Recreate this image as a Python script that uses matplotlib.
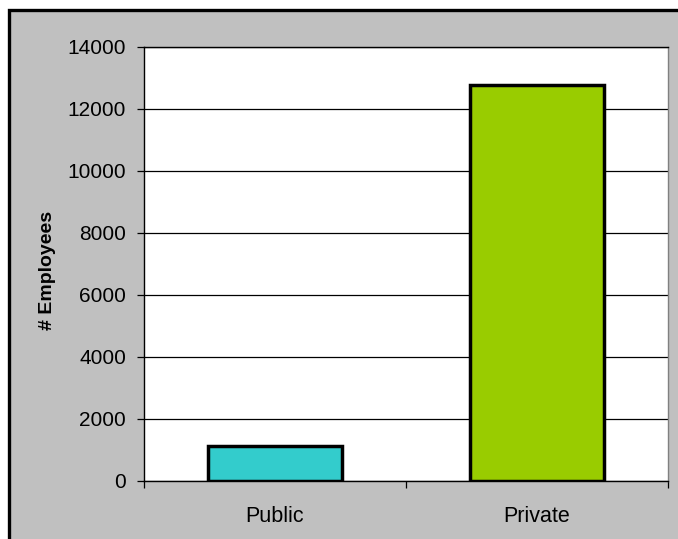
import matplotlib
matplotlib.use("Agg")
import matplotlib.pyplot as plt
from matplotlib.patches import Rectangle
from matplotlib.ticker import FixedLocator, NullFormatter

categories = ["Public", "Private"]
employees = [1130, 12780]
bar_colors = ["#33CCCC", "#99CC00"]
yticks = [0, 2000, 4000, 6000, 8000, 10000, 12000, 14000]

W, H = 678, 539
fig = plt.figure(figsize=(W / 100, H / 100), dpi=100)
fig.patch.set_facecolor("white")

# gray chart area with black border (left/top visible)
fig.patches.append(Rectangle((8.5 / W, -0.1), 1.2, 1.1 - 10.5 / H,
                             transform=fig.transFigure, facecolor="#C0C0C0",
                             edgecolor="black", linewidth=2.4, zorder=-10))

ax = fig.add_axes([144 / W, 1 - 481 / H, (668 - 144) / W, (481 - 47) / H])
ax.set_facecolor("white")
x = list(range(len(categories)))
ax.bar(x, employees, width=0.51, color=bar_colors, edgecolor="black",
       linewidth=2.5, zorder=3)
ax.set_xlim(-0.5, 1.5)
ax.set_ylim(0, 14000)
ax.set_yticks(yticks)
ax.set_yticklabels([str(t) for t in yticks], fontsize=15, family="Liberation Sans")
ax.yaxis.grid(True, color="black", linewidth=0.9, zorder=1)
ax.set_axisbelow(True)
ax.set_xticks(x)
ax.set_xticklabels(categories, fontsize=15.5, family="Liberation Sans")
ax.tick_params(axis="x", which="major", length=0, pad=18)
ax.xaxis.set_minor_locator(FixedLocator([-0.5, 0.5, 1.5]))
ax.xaxis.set_minor_formatter(NullFormatter())
ax.tick_params(axis="x", which="minor", length=5, direction="out", width=0.9)
ax.tick_params(axis="y", length=5, direction="out", width=0.9, pad=8)
for s in ["left", "bottom", "top"]:
    ax.spines[s].set_color("black")
    ax.spines[s].set_linewidth(1.0)
ax.spines["right"].set_color("#808080")
ax.spines["right"].set_linewidth(1.0)
ax.set_ylabel("# Employees", fontsize=14, fontweight="bold",
              family="Liberation Sans")
ax.yaxis.set_label_coords(-0.168, 0.486)

fig.savefig("out.png", dpi=100, facecolor=fig.get_facecolor())
